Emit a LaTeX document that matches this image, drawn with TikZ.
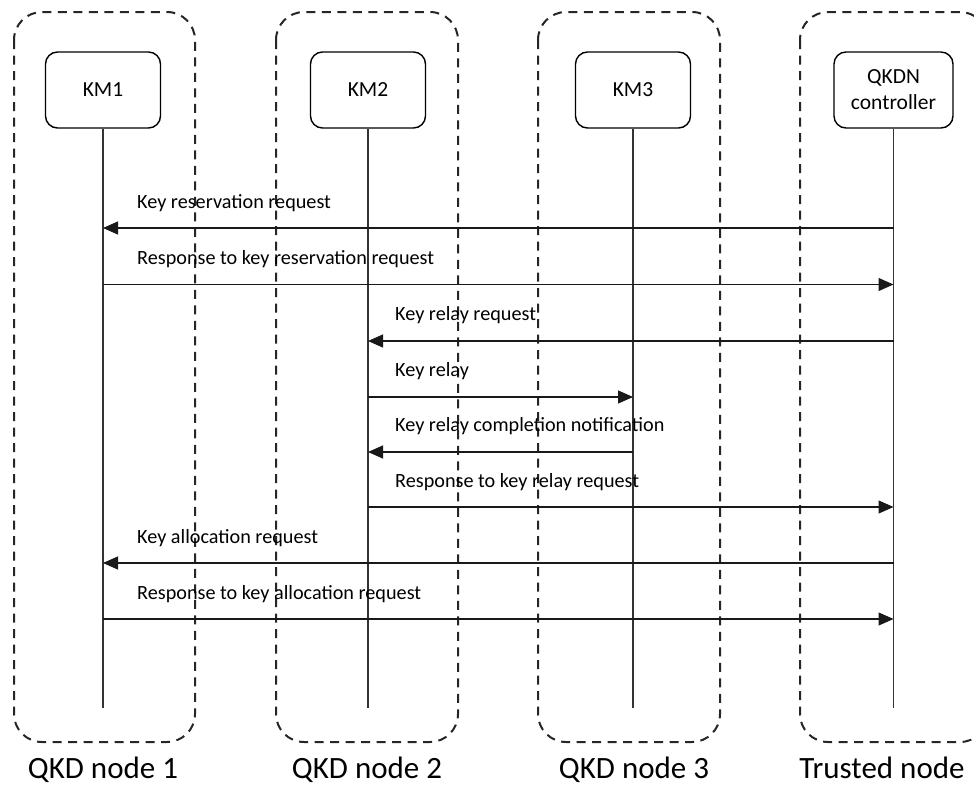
\documentclass[tikz,border=0pt]{standalone}
\usepackage{fontspec}
\setmainfont{Carlito}
\usetikzlibrary{arrows.meta}
\tikzset{
  nodebox/.style={draw=black!85, line width=2pt, dash pattern=on 9pt off 6.5pt, rounded corners=28pt},
  kmbox/.style={draw=black, line width=1.4pt, rounded corners=12pt, minimum width=115pt, minimum height=76pt, align=center, font=\fontsize{21.5}{26}\selectfont, inner sep=2pt},
  lifeline/.style={draw=black!80, line width=1.1pt},
  msg/.style={draw=black!90, line width=1.2pt, -{Triangle[length=15pt,width=13pt]}},
  msglabel/.style={anchor=west, inner sep=0pt, font=\fontsize{20.2}{24}\selectfont},
  nodelabel/.style={anchor=base, inner sep=0pt, font=\fontsize{31}{36}\selectfont}
}
\begin{document}
\begin{tikzpicture}[x=1pt,y=-1pt]
\useasboundingbox (0,0) rectangle (974,787);
% dashed node boxes
\begin{scope}
\clip (0,0) rectangle (974,787);
\draw[nodebox] (14,12) rectangle (195,742);
\draw[nodebox] (276,12) rectangle (458,742);
\draw[nodebox] (538,12) rectangle (720,742);
\draw[nodebox] (800,12) rectangle (988,742);
\end{scope}
% bottom labels
\node[nodelabel] (n1) at (103,778) {QKD node 1};
\node[nodelabel] (n2) at (367,778) {QKD node 2};
\node[nodelabel] (n3) at (634,778) {QKD node 3};
\node[nodelabel] (n4) at (882,778) {Trusted node};
% entities
\node[kmbox] (KM1) at (103,90) {KM1};
\node[kmbox] (KM2) at (368,90) {KM2};
\node[kmbox] (KM3) at (633,90) {KM3};
\node[kmbox, minimum width=119pt] (QC) at (893.5,90) {QKDN\\controller};
% lifeline ends
\coordinate (bot) at (0,708);
\coordinate (e1) at (KM1.center |- bot);
\coordinate (e2) at (KM2.center |- bot);
\coordinate (e3) at (KM3.center |- bot);
\coordinate (e4) at (QC.center |- bot);
\draw[lifeline] (KM1) -- (e1);
\draw[lifeline] (KM2) -- (e2);
\draw[lifeline] (KM3) -- (e3);
\draw[lifeline] (QC) -- (e4);
% message rows
\coordinate (r1) at (0,228);
\coordinate (r2) at (0,284.5);
\coordinate (r3) at (0,341);
\coordinate (r4) at (0,397);
\coordinate (r5) at (0,452);
\coordinate (r6) at (0,507);
\coordinate (r7) at (0,563);
\coordinate (r8) at (0,619);
\draw[msg] (QC.center |- r1) -- (KM1.center |- r1);
\draw[msg] (KM1.center |- r2) -- (QC.center |- r2);
\draw[msg] (QC.center |- r3) -- (KM2.center |- r3);
\draw[msg] (KM2.center |- r4) -- (KM3.center |- r4);
\draw[msg] (KM3.center |- r5) -- (KM2.center |- r5);
\draw[msg] (KM2.center |- r6) -- (QC.center |- r6);
\draw[msg] (QC.center |- r7) -- (KM1.center |- r7);
\draw[msg] (KM1.center |- r8) -- (QC.center |- r8);
% message labels
\node[msglabel] (m1) at (137,203) {Key reservation request};
\node[msglabel] (m2) at (137,259) {Response to key reservation request};
\node[msglabel] (m3) at (395,315) {Key relay request};
\node[msglabel] (m4) at (395,371) {Key relay};
\node[msglabel] (m5) at (395,426) {Key relay completion notification};
\node[msglabel] (m6) at (395,482) {Response to key relay request};
\node[msglabel] (m7) at (137,538) {Key allocation request};
\node[msglabel] (m8) at (137,594) {Response to key allocation request};
\end{tikzpicture}
\end{document}
